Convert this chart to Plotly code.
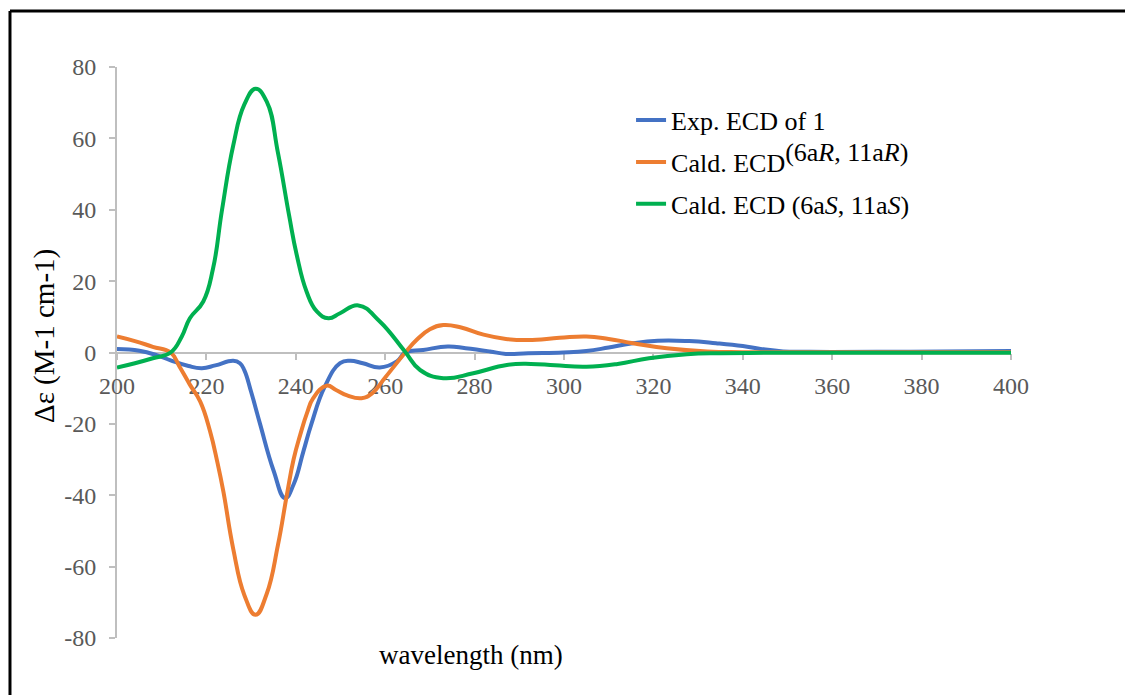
import plotly.graph_objects as go

# ---------------- data ----------------
exp_nm = [200, 205, 209, 212, 216, 219, 222, 226, 227.5, 228.5, 230, 232, 235, 237.6,
          239.5, 241.7, 243.5, 246.5, 249.9, 252.1, 255, 258.8, 262.6, 264.5, 268.5,
          274, 278, 283.4, 287, 292, 299.8, 305, 310, 315, 321, 328, 334, 340, 344,
          349, 355, 370, 385, 400]
exp_val = [1.0, 0.5, -0.8, -2.2, -3.8, -4.4, -3.6, -2.3, -3.0, -5.0, -11, -20, -33, -40.8,
           -37, -27.7, -20, -9.5, -3.0, -2.3, -3.0, -4.2, -2.5, 0.0, 0.7,
           1.7, 1.2, 0.3, -0.4, -0.2, 0.0, 0.4, 1.4, 2.5, 3.3, 3.2, 2.6, 1.8, 1.0,
           0.3, 0.2, 0.2, 0.3, 0.4]

r_nm = [200, 204, 208, 212, 214, 216.3, 218.6, 220.8, 222.5, 223.8, 226, 228.5,
        231, 233.5, 236, 238, 239.5, 241, 242.5, 243.9, 246.9, 249, 251.5, 254.7,
        257, 260, 264.5, 267, 270, 273, 277, 282, 287, 292, 299, 305, 310, 315.5, 323,
        332, 340, 360, 400]
r_val = [4.5, 3.2, 1.6, 0.0, -4.0, -9.0, -13.7, -22, -31, -39, -55, -68,
         -73.5, -67.6, -54, -39.9, -30, -23, -17, -12.8, -9.3, -10.5, -12, -12.8,
         -11.5, -7.0, 0.0, 3.5, 6.5, 7.7, 7.0, 5.0, 3.8, 3.5, 4.1, 4.5, 3.8, 2.6, 1.2,
         0.3, 0.1, 0.1, 0.1]

s_nm = [200, 204, 208, 212, 214.5, 216.3, 219.3, 221.5, 223.5, 226, 228.5, 231, 233.5,
        236, 238.5, 240.2, 242.4, 244.7, 247.3, 249.9, 254, 258.8, 264.4, 267.8, 273,
        279.7, 287.2, 292.6, 298, 305, 312, 319, 327.5, 335, 345, 400]
s_val = [-4.2, -3.0, -1.6, 0.0, 4.5, 9.6, 14.3, 23.6, 40.0, 58.0, 69.5, 73.9, 70.3,
         56.0, 38.4, 27.4, 17.1, 11.5, 9.6, 11.0, 13.2, 8.7, 0.3, -4.9, -7.2,
         -5.8, -3.5, -3.2, -3.6, -4.0, -3.2, -1.6, -0.5, -0.2, -0.1, -0.1]

series_names = [
    "Exp. ECD of 1",
    "Cald. ECD<sup><span style='font-size:26px'>(6a<i>R</i>, 11a<i>R</i>)</span></sup>",
    "Cald. ECD (6a<i>S</i>, 11a<i>S</i>)",
]
series_colors = ["#4472C4", "#ED7D31", "#00B050"]

x_ticks = list(range(200, 401, 20))
x_ticktext = [str(v) for v in x_ticks]
y_ticks = list(range(-80, 81, 20))
y_ticktext = [str(v) for v in y_ticks]  # plain hyphen-minus as in the reference

FONT = "Liberation Serif, Times New Roman, serif"
GRAY = "#BFBFBF"
TICKCOL = "#595959"

fig = go.Figure()
for i, (xs, ys) in enumerate([(exp_nm, exp_val), (r_nm, r_val), (s_nm, s_val)]):
    fig.add_trace(go.Scatter(
        x=xs, y=ys, mode="lines", name=series_names[i],
        legendgroup=f"g{i}",
        line=dict(color=series_colors[i], width=4, shape="spline", smoothing=1.3),
    ))

# page body has an 8px margin, so the figure is laid out 8px smaller and shifted
fig.update_layout(
    width=1125, height=687,
    margin=dict(l=109, r=122, t=59, b=57),
    paper_bgcolor="white", plot_bgcolor="white",
    font=dict(family=FONT, color="black"),
    showlegend=True,
    legend=dict(
        x=0.575, y=0.948, xanchor="left", yanchor="top",
        font=dict(family=FONT, size=26, color="black"),
        bgcolor="rgba(0,0,0,0)", tracegroupgap=5, traceorder="grouped",
    ),
    xaxis=dict(
        range=[200, 400], tickvals=x_ticks, ticktext=x_ticktext,
        anchor="free", position=0.5,
        showline=True, linecolor=GRAY, linewidth=2, ticks="outside", ticklen=6,
        tickcolor=GRAY, tickwidth=1.5, showgrid=False, zeroline=False,
        tickfont=dict(family=FONT, size=24, color=TICKCOL), ticklabelstandoff=6,
        layer="below traces",
    ),
    yaxis=dict(
        range=[-80, 80], tickvals=y_ticks, ticktext=y_ticktext,
        showline=True, linecolor=GRAY, linewidth=2, ticks="outside", ticklen=6,
        tickcolor=GRAY, tickwidth=1.5, showgrid=False, zeroline=False,
        tickfont=dict(family=FONT, size=24, color=TICKCOL), ticklabelstandoff=8,
        layer="below traces",
    ),
    annotations=[
        dict(text="wavelength (nm)", x=0.396, y=-0.03, xref="paper", yref="paper",
             xanchor="center", yanchor="middle", showarrow=False,
             font=dict(family=FONT, size=27, color="black")),
        dict(text="Δε (M-1 cm-1)", x=-0.0805, y=0.529, xref="paper", yref="paper",
             xanchor="center", yanchor="middle", textangle=-90, showarrow=False,
             font=dict(family=FONT, size=29, color="black")),
    ],
    shapes=[
        dict(type="line", xref="paper", yref="paper", x0=-0.1197, x1=1.2,
             y0=1.098, y1=1.098, line=dict(color="black", width=3)),
        dict(type="line", xref="paper", yref="paper", x0=-0.1197, x1=-0.1197,
             y0=1.098, y1=-0.2, line=dict(color="black", width=3)),
    ],
)

fig.write_html("out.html")
